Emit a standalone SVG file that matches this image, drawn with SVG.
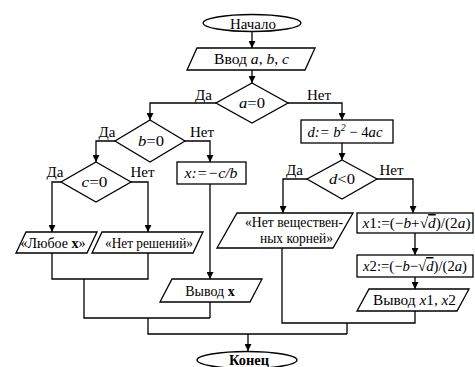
<svg xmlns="http://www.w3.org/2000/svg" width="475" height="367" viewBox="0 0 475 367" font-family="'Liberation Serif', 'DejaVu Serif', serif">
<defs>
<marker id="ah" viewBox="0 0 10 10" refX="10" refY="5" markerWidth="7" markerHeight="7" markerUnits="userSpaceOnUse" orient="auto">
<path d="M0,0 L10,5 L0,10 Z" fill="#000"/>
</marker>
<style>
.s{fill:#fff;stroke:#000;stroke-width:1.3}
.c{fill:none;stroke:#000;stroke-width:1.3}
.a{marker-end:url(#ah)}
text{font-family:'Liberation Serif','DejaVu Serif',serif;font-size:15px;fill:#000}
.m{text-anchor:middle}
.i{font-style:italic}
.b{font-weight:bold}
.o{text-decoration:overline}
.sm{font-size:14px}
</style>
</defs>
<rect width="475" height="367" fill="#fff"/>
<g id="connectors">
<path class="c a" d="M252,32V48"/>
<path class="c a" d="M252,70V83"/>
<path class="c a" d="M216,103H150V120"/>
<path class="c a" d="M288,103H342V120"/>
<path class="c a" d="M115,141H96V162"/>
<path class="c a" d="M185,141H210V162"/>
<path class="c a" d="M61,182H52V232"/>
<path class="c a" d="M131,182H148V232"/>
<path class="c" d="M52,253V279H148V253"/>
<path class="c" d="M84,279V318H210"/>
<path class="c a" d="M210,184V279"/>
<path class="c" d="M210,302V318"/>
<path class="c" d="M148,318V334H347"/>
<path class="c a" d="M342,143V160"/>
<path class="c a" d="M307,179H283V213"/>
<path class="c a" d="M377,179H413V213"/>
<path class="c a" d="M415,233V255"/>
<path class="c a" d="M415,277V289"/>
<path class="c" d="M282,248V323H415V311"/>
<path class="c" d="M347,323V334"/>
<path class="c a" d="M248,334V351"/>
<text x="203.5" y="100" class="m">Да</text>
<text x="319" y="100" class="m">Нет</text>
<text x="107" y="137" class="m">Да</text>
<text x="202" y="137" class="m">Нет</text>
<text x="55" y="177" class="m">Да</text>
<text x="142.5" y="177" class="m">Нет</text>
<text x="294.5" y="175" class="m">Да</text>
<text x="391.5" y="175" class="m">Нет</text>
</g>
<g id="start">
<ellipse class="s" cx="252" cy="23" rx="49" ry="8.5"/>
<text x="253" y="28.5" class="m" textLength="46" lengthAdjust="spacingAndGlyphs">Начало</text>
</g>
<g id="input">
<polygon class="s" points="197,48 315,48 305,70 187,70"/>
<text x="251.5" y="64" class="m" textLength="75" lengthAdjust="spacingAndGlyphs">Ввод <tspan class="i">a</tspan>,  <tspan class="i">b</tspan>, <tspan class="i">c</tspan></text>
</g>
<g id="cond-a">
<polygon class="s" points="252,83 288,103 252,123 216,103"/>
<text x="252" y="108" class="m" textLength="26" lengthAdjust="spacingAndGlyphs"><tspan class="i">a</tspan>=0</text>
</g>
<g id="cond-b">
<polygon class="s" points="150,120 185,141 150,162 115,141"/>
<text x="151" y="146" class="m" textLength="26" lengthAdjust="spacingAndGlyphs"><tspan class="i">b</tspan>=0</text>
</g>
<g id="cond-c">
<polygon class="s" points="96,162 131,182 96,202 61,182"/>
<text x="94.5" y="187" class="m" textLength="26" lengthAdjust="spacingAndGlyphs"><tspan class="i">c</tspan>=0</text>
</g>
<g id="calc-x">
<rect class="s" x="177" y="162" width="69" height="22"/>
<text x="211" y="178" class="m i" textLength="53" lengthAdjust="spacingAndGlyphs">x:=−c/b</text>
</g>
<g id="any-x">
<polygon class="s" points="26,232 97,232 87,253 16,253"/>
<text x="53" y="247.5" class="m sm">«Любое <tspan class="b">x</tspan>»</text>
</g>
<g id="no-solutions">
<polygon class="s" points="102,232 203,232 193,253 92,253"/>
<text x="149" y="247.5" class="m" textLength="88" lengthAdjust="spacingAndGlyphs">«Нет решений»</text>
</g>
<g id="output-x">
<polygon class="s" points="172,279 262,279 250,302 160,302"/>
<text x="210" y="295.5" class="m sm">Вывод <tspan class="b">x</tspan></text>
</g>
<g id="calc-d">
<rect class="s" x="301" y="120" width="92" height="23"/>
<text x="345" y="136.5" class="m i" textLength="75" lengthAdjust="spacingAndGlyphs">d:= b<tspan font-size="10" dy="-6">2</tspan><tspan dy="6" font-style="normal"> − 4</tspan>ac</text>
</g>
<g id="cond-d">
<polygon class="s" points="342,160 377,179 342,199 307,179"/>
<text x="342" y="184" class="m" textLength="26" lengthAdjust="spacingAndGlyphs"><tspan class="i">d</tspan>&lt;0</text>
</g>
<g id="no-real-roots">
<polygon class="s" points="237,213 353,213 333,248 217,248"/>
<text x="294" y="227" class="m" textLength="98" lengthAdjust="spacingAndGlyphs">«Нет веществен-</text>
<text x="296.5" y="243" class="m" textLength="73" lengthAdjust="spacingAndGlyphs">ных корней»</text>
</g>
<g id="calc-x1">
<rect class="s" x="357" y="213" width="116" height="20"/>
<text x="416.5" y="228" class="m" textLength="108" lengthAdjust="spacingAndGlyphs"><tspan class="i">x</tspan>1:=(−<tspan class="i">b</tspan>+√<tspan class="i o">d</tspan>)/(2<tspan class="i">a</tspan>)</text>
</g>
<g id="calc-x2">
<rect class="s" x="357" y="255" width="116" height="22"/>
<text x="415" y="271" class="m" textLength="104" lengthAdjust="spacingAndGlyphs"><tspan class="i">x</tspan>2:=(−<tspan class="i">b</tspan>−√<tspan class="i o">d</tspan>)/(2<tspan class="i">a</tspan>)</text>
</g>
<g id="output-x1x2">
<polygon class="s" points="369,289 469,289 457,311 357,311"/>
<text x="414.5" y="305" class="m" textLength="83" lengthAdjust="spacingAndGlyphs">Вывод <tspan class="i">x</tspan>1,  <tspan class="i">x</tspan>2</text>
</g>
<g id="end">
<ellipse class="s" cx="247" cy="360" rx="50" ry="8.5"/>
<text x="249" y="365" class="m b" textLength="40" lengthAdjust="spacingAndGlyphs">Конец</text>
</g>
</svg>
